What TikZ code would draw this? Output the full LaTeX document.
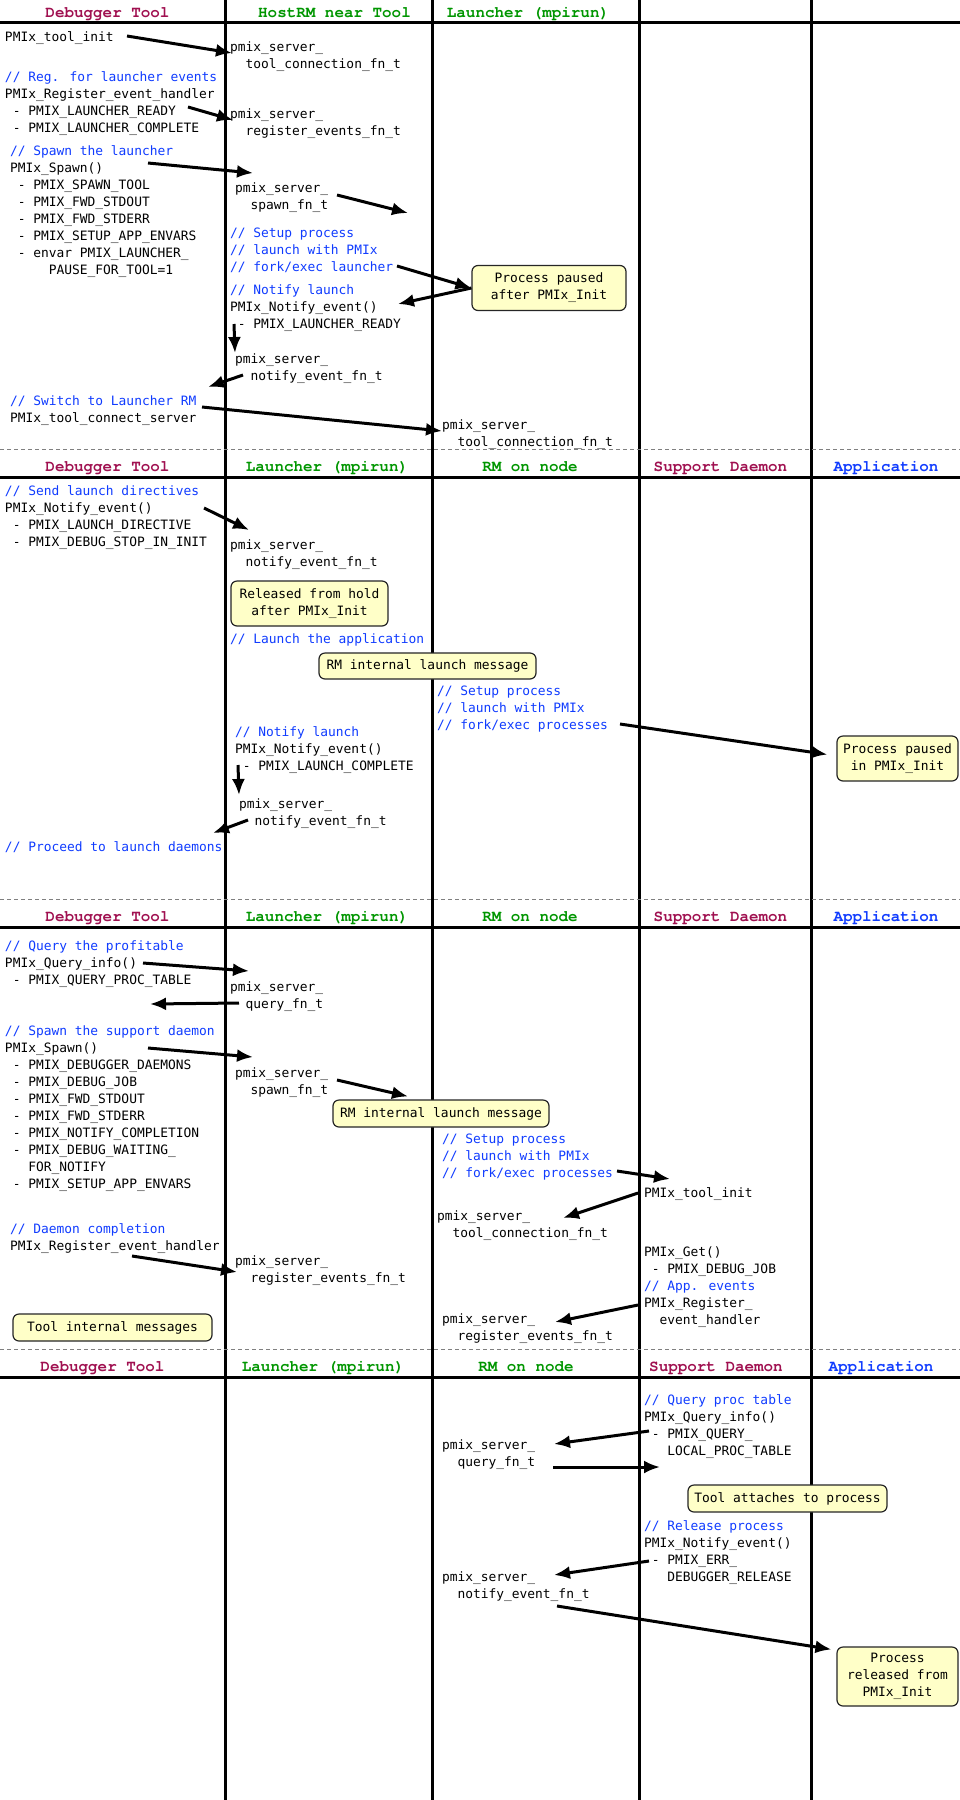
\documentclass[tikz,border=0pt]{standalone}
\usepackage{fontspec}
\setmainfont{DejaVu Sans Mono}
\newfontfamily\hdrfamily{texgyrecursor-bold.otf}
\usetikzlibrary{arrows.meta,calc}
\definecolor{dbgred}{RGB}{160,16,80}
\definecolor{rmgreen}{RGB}{0,150,0}
\definecolor{appblue}{RGB}{16,60,255}
\definecolor{cmtblue}{RGB}{16,60,255}
\definecolor{notefill}{RGB}{255,255,200}
\newcommand{\ind}[1]{\hspace*{#1\fontcharwd\font`x}}
\newcommand{\bodyfont}{\fontsize{12.9}{17}\selectfont}
\newcommand{\hdrfont}{\fontsize{15.9}{18}\selectfont\hdrfamily}
\newcommand{\cmt}[1]{\textcolor{cmtblue}{#1}}
\tikzset{
  lane/.style={line width=3pt, black},
  hrule/.style={line width=3pt, black},
  sepline/.style={gray, line width=1pt, dash pattern=on 4pt off 3pt},
  hdr/.style={anchor=base, inner sep=0pt, font=\hdrfont}
}

\begin{document}
\begin{tikzpicture}[x=1pt, y=-1pt,
    txt/.style={anchor=north west, inner xsep=0pt, inner ysep=3.5pt, outer sep=0pt, align=left, font=\bodyfont},
    note/.style={draw=black!85, line width=1.2pt, fill=notefill, rounded corners=6pt, align=center, font=\bodyfont, inner sep=0pt},
    msg/.style={-{Latex[length=16pt, width=13pt]}, line width=3pt, black}
  ]
    \fill[white] (0,0) rectangle (960,1800);
    \useasboundingbox (0,0) rectangle (960,1800);

    % lanes and section rules
    \draw[lane] (225,0) -- (225,1800) (432,0) -- (432,1800) (639,0) -- (639,1800) (811,0) -- (811,1800);
    \draw[hrule] (0,22.5) -- (960,22.5) (0,477) -- (960,477) (0,927) -- (960,927) (0,1377) -- (960,1377);
    \draw[sepline] (0,449.5) -- (960,449.5) (0,899.5) -- (960,899.5) (0,1349.5) -- (960,1349.5);

    % headers
    \node[hdr, text=dbgred] (dbg1) at (107.5,17) {Debugger Tool};
    \node[hdr, text=rmgreen] (host1) at (334.5,17) {HostRM near Tool};
    \node[hdr, text=rmgreen] (lnch1) at (528,17) {Launcher (mpirun)};

    \node[hdr, text=dbgred] (dbg2) at (107.5,471) {Debugger Tool};
    \node[hdr, text=rmgreen] (lnch2) at (327,471) {Launcher (mpirun)};
    \node[hdr, text=rmgreen] (rm2) at (530,471) {RM on node};
    \node[hdr, text=dbgred] (sd2) at (720.5,471) {Support Daemon};
    \node[hdr, text=appblue] (app2) at (886,471) {Application};

    \node[hdr, text=dbgred] (dbg3) at (107.5,921) {Debugger Tool};
    \node[hdr, text=rmgreen] (lnch3) at (327,921) {Launcher (mpirun)};
    \node[hdr, text=rmgreen] (rm3) at (530,921) {RM on node};
    \node[hdr, text=dbgred] (sd3) at (720.5,921) {Support Daemon};
    \node[hdr, text=appblue] (app3) at (886,921) {Application};

    \node[hdr, text=dbgred] (dbg4) at (102.5,1371) {Debugger Tool};
    \node[hdr, text=rmgreen] (lnch4) at (323,1371) {Launcher (mpirun)};
    \node[hdr, text=rmgreen] (rm4) at (526,1371) {RM on node};
    \node[hdr, text=dbgred] (sd4) at (716,1371) {Support Daemon};
    \node[hdr, text=appblue] (app4) at (881,1371) {Application};

    % tool starts the launcher
    \node[txt] (toolinit) at (5,28) {PMIx\_tool\_init};
    \node[txt] (srvconn1) at (230,38) {pmix\_server\_\\\ind{2}tool\_connection\_fn\_t};
    \node[txt] (regevt) at (5,68) {\cmt{// Reg. for launcher events}\\PMIx\_Register\_event\_handler\\\ind{1}- PMIX\_LAUNCHER\_READY\\\ind{1}- PMIX\_LAUNCHER\_COMPLETE};
    \node[txt] (srvreg1) at (230,105) {pmix\_server\_\\\ind{2}register\_events\_fn\_t};
    \node[txt] (spawnlnch) at (10,142) {\cmt{// Spawn the launcher}\\PMIx\_Spawn()\\\ind{1}- PMIX\_SPAWN\_TOOL\\\ind{1}- PMIX\_FWD\_STDOUT\\\ind{1}- PMIX\_FWD\_STDERR\\\ind{1}- PMIX\_SETUP\_APP\_ENVARS\\\ind{1}- envar PMIX\_LAUNCHER\_\\\ind{5}PAUSE\_FOR\_TOOL=1};
    \node[txt] (srvspawn1) at (235,179) {pmix\_server\_\\\ind{2}spawn\_fn\_t};
    \node[txt, text=cmtblue] (setup1) at (230,224) {// Setup process\\// launch with PMIx\\// fork/exec launcher};
    \node[txt] (notify1) at (230,281) {\cmt{// Notify launch}\\PMIx\_Notify\_event()\\\ind{1}- PMIX\_LAUNCHER\_READY};
    \node[note, minimum width=154pt, minimum height=45pt] (paused1) at (549,288) {Process paused\\after PMIx\_Init};
    \node[txt] (srvnotify1) at (235,350) {pmix\_server\_\\\ind{2}notify\_event\_fn\_t};
    \node[txt] (switchrm) at (10,392) {\cmt{// Switch to Launcher RM}\\PMIx\_tool\_connect\_server};
    \node[txt] (srvconn2) at (442,416) {pmix\_server\_\\\ind{2}tool\_connection\_fn\_t};
    \coordinate (lnchA) at (408,213);
    \coordinate (toolA) at (208,387);

    \draw[msg] ($(toolinit.north west)+(122,8)$) -- ($(srvconn1.north west)+(2,15)$);
    \draw[msg] ($(regevt.north west)+(183,39)$) -- ($(srvreg1.north west)+(3,15)$);
    \draw[msg] ($(spawnlnch.north west)+(138,21)$) -- ($(srvspawn1.north west)+(18,-6)$);
    \draw[msg] ($(srvspawn1.north west)+(102,16)$) -- (lnchA);
    \draw[msg] ($(setup1.north west)+(167,42)$) -- (paused1.west);
    \draw[msg] (paused1.west) -- ($(notify1.north west)+(168,23)$);
    \draw[msg] ($(notify1.north west)+(4,43)$) -- ($(srvnotify1.north west)+(0,3)$);
    \draw[msg] ($(srvnotify1.north west)+(8,25)$) -- (toolA);
    \draw[msg] ($(switchrm.north west)+(192,15)$) -- ($(srvconn2.north west)+(0,15)$);

    % launch directives
    \node[txt] (senddir) at (5,482) {\cmt{// Send launch directives}\\PMIx\_Notify\_event()\\\ind{1}- PMIX\_LAUNCH\_DIRECTIVE\\\ind{1}- PMIX\_DEBUG\_STOP\_IN\_INIT};
    \node[txt] (srvnotify2) at (230,536) {pmix\_server\_\\\ind{2}notify\_event\_fn\_t};
    \node[note, minimum width=157pt, minimum height=45pt] (released1) at (309.5,603.5) {Released from hold\\after PMIx\_Init};
    \node[txt, text=cmtblue] (launchapp) at (230,630) {// Launch the application};
    \node[note, minimum width=217pt, minimum height=26pt] (rmmsg1) at (427.5,666) {RM internal launch message};
    \node[txt, text=cmtblue] (setup2) at (437,682) {// Setup process\\// launch with PMIx\\// fork/exec processes};
    \node[note, minimum width=121pt, minimum height=45pt] (paused2) at (897.5,758.5) {Process paused\\in PMIx\_Init};
    \node[txt] (notify2) at (235,723) {\cmt{// Notify launch}\\PMIx\_Notify\_event()\\\ind{1}- PMIX\_LAUNCH\_COMPLETE};
    \node[txt] (srvnotify3) at (239,795) {pmix\_server\_\\\ind{2}notify\_event\_fn\_t};
    \node[txt, text=cmtblue] (proceed) at (5,838) {// Proceed to launch daemons};
    \coordinate (toolB) at (213,833);

    \draw[msg] ($(senddir.north west)+(199,26)$) -- ($(srvnotify2.north west)+(19,-6)$);
    \draw[msg] ($(setup2.north west)+(183,42)$) -- ($(paused2.west)+(-9,-4)$);
    \draw[msg] ($(notify2.north west)+(3,42)$) -- (srvnotify3.north west);
    \draw[msg] ($(srvnotify3.north west)+(9,25)$) -- (toolB);

    % support daemon
    \node[txt] (qryinfo) at (5,937) {\cmt{// Query the profitable}\\PMIx\_Query\_info()\\\ind{1}- PMIX\_QUERY\_PROC\_TABLE};
    \node[txt] (srvquery1) at (230,978) {pmix\_server\_\\\ind{2}query\_fn\_t};
    \node[txt] (spawndmn) at (5,1022) {\cmt{// Spawn the support daemon}\\PMIx\_Spawn()\\\ind{1}- PMIX\_DEBUGGER\_DAEMONS\\\ind{1}- PMIX\_DEBUG\_JOB\\\ind{1}- PMIX\_FWD\_STDOUT\\\ind{1}- PMIX\_FWD\_STDERR\\\ind{1}- PMIX\_NOTIFY\_COMPLETION\\\ind{1}- PMIX\_DEBUG\_WAITING\_\\\ind{3}FOR\_NOTIFY\\\ind{1}- PMIX\_SETUP\_APP\_ENVARS};
    \node[txt] (srvspawn2) at (235,1064) {pmix\_server\_\\\ind{2}spawn\_fn\_t};
    \node[note, minimum width=216pt, minimum height=27pt] (rmmsg2) at (441,1113.5) {RM internal launch message};
    \node[txt, text=cmtblue] (setup3) at (442,1130) {// Setup process\\// launch with PMIx\\// fork/exec processes};
    \node[txt] (dmninit) at (644,1184) {PMIx\_tool\_init};
    \node[txt] (srvconn3) at (437,1207) {pmix\_server\_\\\ind{2}tool\_connection\_fn\_t};
    \node[txt] (dmnget) at (644,1243) {PMIx\_Get()\\\ind{1}- PMIX\_DEBUG\_JOB\\\cmt{// App. events}\\PMIx\_Register\_\\\ind{2}event\_handler};
    \node[txt] (dmncompl) at (10,1220) {\cmt{// Daemon completion}\\PMIx\_Register\_event\_handler};
    \node[txt] (srvreg2) at (235,1252) {pmix\_server\_\\\ind{2}register\_events\_fn\_t};
    \node[txt] (srvreg3) at (442,1310) {pmix\_server\_\\\ind{2}register\_events\_fn\_t};
    \node[note, minimum width=199pt, minimum height=27pt] (toolmsg) at (112.5,1327.5) {Tool internal messages};
    \coordinate (toolC) at (150,1004);

    \draw[msg] ($(qryinfo.north west)+(138,26)$) -- ($(srvquery1.north west)+(19,-7)$);
    \draw[msg] ($(srvquery1.north west)+(9,25)$) -- (toolC);
    \draw[msg] ($(spawndmn.north west)+(143,26)$) -- ($(srvspawn2.north west)+(18,-7)$);
    \draw[msg] ($(srvspawn2.north west)+(102,16)$) -- ($(rmmsg2.north)+(-33,-3)$);
    \draw[msg] ($(setup3.north west)+(175,41)$) -- ($(dmninit.north west)+(26,-5)$);
    \draw[msg] ($(dmninit.north west)+(-6,9)$) -- ($(srvconn3.north west)+(126,11)$);
    \draw[msg] ($(dmncompl.north west)+(122,36)$) -- ($(srvreg2.north west)+(2,20)$);
    \draw[msg] ($(dmnget.north west)+(-6,62)$) -- ($(srvreg3.north west)+(113,12)$);

    % attach and release
    \node[txt] (qryproc) at (644,1391) {\cmt{// Query proc table}\\PMIx\_Query\_info()\\\ind{1}- PMIX\_QUERY\_\\\ind{3}LOCAL\_PROC\_TABLE};
    \node[txt] (srvquery2) at (442,1436) {pmix\_server\_\\\ind{2}query\_fn\_t};
    \node[note, minimum width=199pt, minimum height=27pt] (attach) at (787.5,1498.5) {Tool attaches to process};
    \node[txt] (relproc) at (644,1517) {\cmt{// Release process}\\PMIx\_Notify\_event()\\\ind{1}- PMIX\_ERR\_\\\ind{3}DEBUGGER\_RELEASE};
    \node[txt] (srvnotify4) at (442,1568) {pmix\_server\_\\\ind{2}notify\_event\_fn\_t};
    \node[note, minimum width=121pt, minimum height=59pt] (released2) at (897.5,1676.5) {Process\\released from\\PMIx\_Init};
    \coordinate (sdA) at (660,1467);

    \draw[msg] ($(qryproc.north west)+(5,40)$) -- ($(srvquery2.north west)+(112,8)$);
    \draw[msg] ($(srvquery2.north west)+(111,31)$) -- (sdA);
    \draw[msg] ($(relproc.north west)+(5,44)$) -- ($(srvnotify4.north west)+(112,7)$);
    \draw[msg] ($(srvnotify4.north west)+(115,38)$) -- ($(released2.north west)+(-5,3)$);
  \end{tikzpicture}
\end{document}
